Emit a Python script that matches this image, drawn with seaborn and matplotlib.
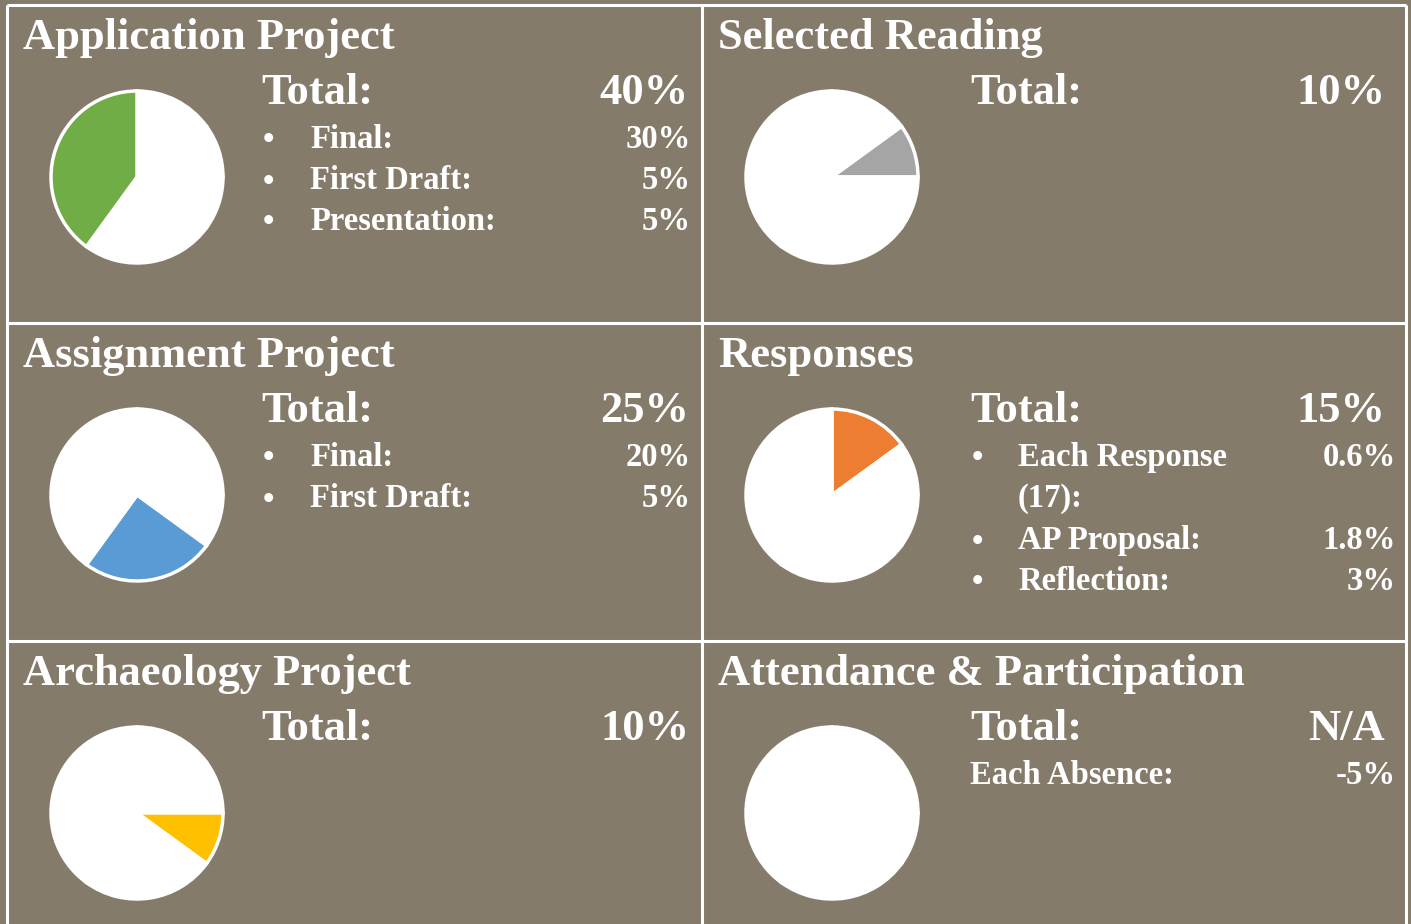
import numpy as np
import pandas as pd
import matplotlib
matplotlib.use("Agg")
import matplotlib.pyplot as plt
import seaborn as sns

# pie slices (clockwise from 12 o'clock)
categories = ["Responses", "Selected Reading", "Archaeology Project", "Assignment Project", "Application Project"]
weights = [15, 10, 10, 25, 40]
slice_colors = ["#ED7D31", "#A5A5A5", "#FFC000", "#5B9BD5", "#70AD47"]

# panels, row by row
panel_titles = ["Application Project", "Selected Reading", "Assignment Project",
                "Responses", "Archaeology Project", "Attendance & Participation"]
panel_totals = ["40%", "10%", "25%", "15%", "10%", "N/A"]
panel_items = [
    [("Final:", "30%"), ("First Draft:", "5%"), ("Presentation:", "5%")],
    [],
    [("Final:", "20%"), ("First Draft:", "5%")],
    [("Each Response\n(17):", "0.6%"), ("AP Proposal:", "1.8%"), ("Reflection:", "3%")],
    [],
    [],
]
attendance_note = ("Each Absence:", "-5%")

sns.set_theme(style="white")
plt.rcParams["font.family"] = ["Liberation Serif", "DejaVu Serif"]

BG = "#857B6B"
W, H = 1411, 924
fig = plt.figure(figsize=(W / 100, H / 100), dpi=100)
fig.patch.set_facecolor(BG)

bg = fig.add_axes([0, 0, 1, 1])
bg.set_xlim(0, W)
bg.set_ylim(H, 0)
bg.axis("off")
bg.set_facecolor(BG)

# grid lines
xs = [7, 702, 1406]
ys = [5, 323, 641, 959]
for x in xs:
    bg.plot([x, x], [ys[0], ys[-1]], color="white", lw=2.2, solid_capstyle="butt")
for y in ys:
    bg.plot([xs[0], xs[-1]], [y, y], color="white", lw=2.2, solid_capstyle="butt")

R = 86
title_fs = 32
total_fs = 32
item_fs = 23.5
txt = dict(color="white", fontweight="bold")

for i, title in enumerate(panel_titles):
    col, row = i % 2, i // 2
    x0 = xs[col]
    y0 = ys[row]
    # title
    bg.text(x0 + 16, y0 + 44, title, fontsize=title_fs, ha="left", va="baseline", **txt)

    # pie
    cx, cy = x0 + 130, y0 + 172
    pad = 1.04
    ax = fig.add_axes([(cx - R * pad) / W, 1 - (cy + R * pad) / H, 2 * R * pad / W, 2 * R * pad / H])
    cols = [c if cat == title else "white" for cat, c in zip(categories, slice_colors)]
    ax.pie(weights, colors=cols, startangle=90, counterclock=False,
           wedgeprops=dict(edgecolor="white", linewidth=2.5))
    ax.set_xlim(-pad, pad)
    ax.set_ylim(-pad, pad)
    ax.set_aspect("equal")
    ax.axis("off")

    # total line
    if col == 0:
        tx, vr, ir = x0 + 254, x0 + 682, x0 + 684
        bx, lx = x0 + 261, x0 + 303
    else:
        tx, vr, ir = x0 + 268, x0 + 683, x0 + 694
        bx, lx = x0 + 275, x0 + 316
    ty = y0 + 99
    bg.text(tx, ty, "Total:", fontsize=total_fs, ha="left", va="baseline", **txt)
    bg.text(vr, ty, panel_totals[i], fontsize=total_fs, ha="right", va="baseline", **txt)

    ly = y0 + 143
    for label, val in panel_items[i]:
        bg.text(bx, ly - 7, "\u2022", fontsize=item_fs, ha="center", va="center", **txt)
        lines = label.split("\n")
        for k, ln in enumerate(lines):
            bg.text(lx, ly + k * 41, ln, fontsize=item_fs, ha="left", va="baseline", **txt)
        bg.text(ir, ly, val, fontsize=item_fs, ha="right", va="baseline", **txt)
        ly += 41 * len(lines) + (1 if len(lines) > 1 else 0)

    if title.startswith("Attendance"):
        bg.text(tx, y0 + 143, attendance_note[0], fontsize=item_fs, ha="left", va="baseline", **txt)
        bg.text(ir, y0 + 143, attendance_note[1], fontsize=item_fs, ha="right", va="baseline", **txt)

fig.savefig("out.png", dpi=100, facecolor=BG)
